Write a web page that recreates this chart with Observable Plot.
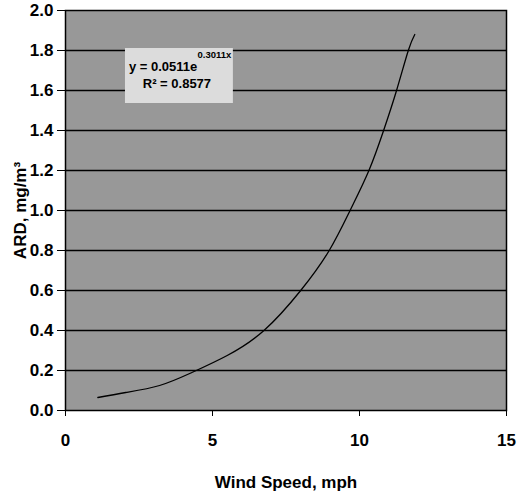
<!DOCTYPE html>
<html>
<head>
<meta charset="utf-8">
<script src="https://cdn.jsdelivr.net/npm/d3@7"></script>
<script src="https://cdn.jsdelivr.net/npm/@observablehq/plot@0.6"></script>
<style>
  html, body { margin: 0; padding: 0; background: white; }
</style>
</head>
<body>
<div id="chart"></div>
<script>
// Trendline readings (wind speed, mph  ->  ARD, mg/m3)
const windSpeed = [1.1, 2.05, 3.2, 4.3, 5.5, 6.75, 8.0, 8.97, 9.68, 10.32, 10.82, 11.26, 11.66, 11.88];
const ard       = [0.065, 0.09, 0.125, 0.19, 0.275, 0.4, 0.6, 0.8, 1.0, 1.2, 1.4, 1.6, 1.8, 1.88];
const xTicks = [0, 5, 10, 15];
const yTicks = [0, 0.2, 0.4, 0.6, 0.8, 1.0, 1.2, 1.4, 1.6, 1.8, 2.0];
const eqMain = "y = 0.0511e";
const eqExp = "0.3011x";
const eqR2 = "R² = 0.8577";
const xLabel = "Wind Speed, mph";
const yLabel = "ARD, mg/m³";

const curve = windSpeed.map((x, i) => ({x, y: ard[i]}));

const chart = Plot.plot({
  width: 517,
  height: 491,
  marginLeft: 65,
  marginRight: 11,
  marginTop: 10,
  marginBottom: 81,
  style: {fontFamily: "'Liberation Sans', Arial, sans-serif", fontWeight: "bold", fontSize: "17px", background: "white", color: "black"},
  x: {domain: [0, 15]},
  y: {domain: [0, 2]},
  marks: [
    Plot.frame({fill: "#989898"}),
    Plot.ruleY(yTicks.filter(d => d > 0 && d < 2), {stroke: "black", strokeWidth: 1.7}),
    Plot.rect([{x1: 2.04, x2: 5.71, y1: 1.535, y2: 1.81}], {x1: "x1", x2: "x2", y1: "y1", y2: "y2", fill: "#dcdcdc"}),
    Plot.text([eqMain], {x: 3.32, y: 1.72, text: d => d, fontSize: 13, fontWeight: "bold", fill: "black"}),
    Plot.text([eqExp], {x: 4.49, y: 1.778, text: d => d, fontSize: 9.5, fontWeight: "bold", fill: "black", textAnchor: "start"}),
    Plot.text([eqR2], {x: 3.79, y: 1.635, text: d => d, fontSize: 13, fontWeight: "bold", fill: "black"}),
    Plot.line(curve, {x: "x", y: "y", curve: "natural", stroke: "black", strokeWidth: 1.3}),
    Plot.frame({stroke: "black", strokeWidth: 1.5}),
    Plot.axisY({ticks: yTicks, tickFormat: d => d.toFixed(1), tickSize: 8, tickPadding: 4, label: yLabel, labelAnchor: "center", labelOffset: 52, labelArrow: "none"}),
    Plot.axisX({ticks: xTicks, tickFormat: d => String(d), tickSize: 6, tickPadding: 17, label: xLabel, labelAnchor: "center", labelOffset: 77, labelArrow: "none"})
  ]
});
document.getElementById("chart").appendChild(chart);
</script>
</body>
</html>
